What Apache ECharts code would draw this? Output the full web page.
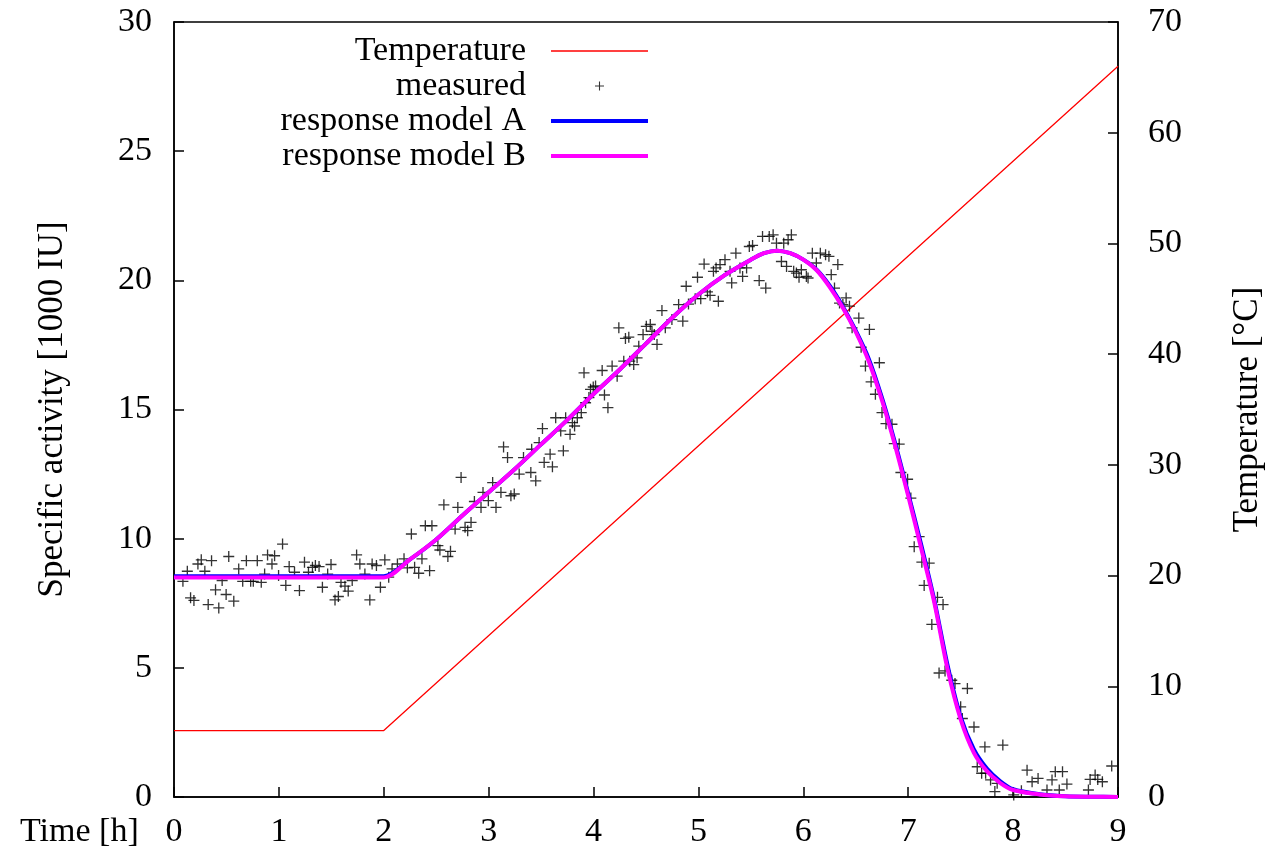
<!DOCTYPE html>
<html>
<head>
<meta charset="utf-8">
<script src="https://cdn.jsdelivr.net/npm/echarts@6/dist/echarts.min.js"></script>
<style>
  html, body { margin: 0; padding: 0; background: #fff; }
  #chart { width: 1273px; height: 852px; }
</style>
</head>
<body>
<div id="chart"></div>
<script>
// 温度曲线（右轴，°C）
const tempTime = [0, 2, 9];
const tempValue = [6, 6, 66];

// 测量点 [时间 h, 比活性 1000 IU]
const measured = [
  [0.085,8.35],[0.127,8.74],[0.158,7.71],[0.19,7.61],[0.228,9.02],[0.26,9.18],[0.294,8.74],[0.326,7.45],
  [0.358,9.15],[0.396,8.02],[0.427,7.32],[0.459,8.38],[0.497,7.84],[0.522,9.31],[0.57,7.58],[0.617,8.83],
  [0.655,8.35],[0.69,9.15],[0.731,8.35],[0.756,8.35],[0.794,9.15],[0.832,8.31],[0.864,8.63],[0.892,9.37],
  [0.934,9.02],[0.959,9.34],[0.997,8.57],[1.035,9.79],[1.066,8.19],[1.098,8.92],[1.149,8.7],[1.196,7.99],
  [1.244,9.09],[1.282,8.7],[1.32,8.89],[1.348,8.96],[1.383,8.92],[1.415,8.12],[1.465,8.63],[1.497,9.0],
  [1.535,7.63],[1.567,7.76],[1.592,8.31],[1.63,8.16],[1.661,7.97],[1.699,8.38],[1.741,9.37],[1.772,9.02],
  [1.82,8.63],[1.867,7.63],[1.889,9.02],[1.93,8.96],[1.968,8.12],[2.01,9.18],
  [2.047,8.51],[2.079,8.83],[2.13,9.02],[2.193,9.22],[2.225,8.87],[2.263,10.18],[2.294,8.89],[2.333,8.66],
  [2.364,9.22],[2.396,10.5],[2.437,8.76],[2.459,10.5],[2.516,9.73],[2.535,9.56],[2.573,11.31],[2.611,9.31],
  [2.636,9.51],[2.68,10.37],[2.706,11.21],[2.737,12.37],[2.775,10.44],[2.8,10.31],[2.832,10.63],[2.864,11.44],
  [2.927,11.21],[2.946,11.79],[2.997,11.47],[3.038,12.17],[3.07,11.21],[3.117,11.79],[3.142,13.55],[3.18,13.14],
  [3.212,11.66],[3.244,11.73],[3.291,12.5],[3.332,13.14],[3.402,12.56],[3.41,13.46],[3.449,12.24],[3.481,13.72],
  [3.529,12.95],
  [3.513,14.26],[3.586,13.27],[3.608,12.78],[3.639,14.68],[3.687,14.17],[3.712,13.4],[3.734,14.68],[3.776,14.04],
  [3.798,14.49],[3.819,14.36],[3.845,14.68],[3.883,14.88],[3.909,16.42],[3.924,15.26],[3.956,15.46],[3.971,15.78],
  [3.997,15.87],[4.019,15.91],[4.082,16.51],[4.104,15.56],[4.137,15.07],[4.177,16.68],[4.225,16.29],[4.241,18.16],
  [4.288,16.87],[4.304,17.75],[4.336,17.8],[4.345,16.87],[4.383,16.74],[4.415,17.0],[4.431,17.45],[4.472,17.9],
  [4.503,18.22],[4.541,18.29],[4.557,18.03],[4.579,17.9],[4.605,17.52],[4.652,18.83],[4.684,18.16],[4.747,18.48],
  [4.811,19.06],[4.851,18.42],[4.905,19.08],
  [4.883,19.77],[4.969,19.29],[4.991,20.12],[5.022,19.29],[5.054,20.63],[5.086,19.55],[5.111,19.42],[5.143,20.35],
  [5.168,20.48],[5.19,19.19],[5.206,20.61],[5.253,20.8],[5.301,20.35],[5.317,19.9],[5.357,21.05],[5.396,20.48],
  [5.421,20.15],[5.459,20.48],[5.485,21.31],[5.516,21.35],[5.579,19.99],[5.611,21.7],[5.642,19.7],[5.675,21.7],
  [5.712,21.76],[5.744,21.44],[5.791,20.73],[5.813,21.44],[5.84,20.54],[5.855,21.57],[5.886,21.76],[5.908,20.35],
  [5.934,20.28],[5.959,20.12],[5.981,20.41],[6.029,20.15],[6.045,20.09],[6.086,21.05],[6.124,20.67],[6.162,21.05],
  [6.212,20.99],[6.244,20.93],[6.266,20.22],[6.329,20.61],[6.345,19.12],[6.377,19.06],[6.408,19.32],[6.465,18.16],
  [6.297,19.7],[6.44,19.0],[6.529,18.54],[6.551,17.41],[6.592,16.68],[6.63,18.1],[6.646,16.07],[6.687,15.59],
  [6.725,16.81],[6.75,14.88],[6.788,14.45],[6.845,14.43],[6.867,13.68],[6.914,13.66],[6.93,12.56],[6.994,12.3],
  [7.025,11.57],[7.057,9.69],[7.104,10.08],[7.13,9.09],[7.152,8.19],[7.2,9.05],[7.279,7.73],
  [7.225,6.68],[7.294,4.8],[7.332,7.45],[7.351,4.88],[7.415,4.52],[7.446,4.39],[7.5,3.49],[7.516,3.04],
  [7.564,4.2],[7.627,2.71],[7.658,1.17],[7.7,0.92],[7.731,1.94],[7.738,0.92],[7.785,0.66],[7.826,0.21],
  [7.848,0.53],[7.902,2.01],[8.006,0.08],[8.079,0.24],[8.133,1.04],[8.181,0.59],[8.238,0.72],[8.323,0.27],
  [8.371,0.66],[8.402,0.98],[8.44,0.27],[8.471,0.98],[8.513,0.5],[8.718,0.27],[8.734,0.68],[8.782,0.85],
  [8.807,0.68],[8.851,0.59],[8.94,1.2]
];

// 响应模型 A / B
const modelTime = [0, 1, 2, 2.25, 2.5, 2.75, 3, 3.25, 3.5, 3.75, 4, 4.25, 4.5, 4.75, 5, 5.25, 5.5, 5.625,
  5.75, 5.875, 6, 6.125, 6.25, 6.375, 6.5, 6.625, 6.75, 6.875, 7, 7.125, 7.25, 7.375, 7.5, 7.625, 7.75,
  7.875, 8, 8.25, 8.5, 8.75, 9];
const modelA = [8.55, 8.55, 8.55, 9.2, 9.97, 10.9, 11.8, 12.7, 13.65, 14.6, 15.6, 16.55, 17.55, 18.55, 19.45,
  20.2, 20.8, 21.05, 21.15, 21.05, 20.8, 20.42, 19.8, 19.0, 18.05, 16.95, 15.45, 13.7, 11.75, 9.75, 7.6, 5.1,
  3.1, 1.85, 1.1, 0.62, 0.3, 0.11, 0.03, 0.01, 0];
const modelB = [8.5, 8.5, 8.5, 9.2, 9.97, 10.9, 11.8, 12.7, 13.65, 14.6, 15.6, 16.55, 17.55, 18.55, 19.45,
  20.2, 20.8, 21.05, 21.15, 21.05, 20.8, 20.4, 19.75, 18.95, 18.0, 16.85, 15.35, 13.6, 11.65, 9.6, 7.5, 4.95,
  3.0, 1.72, 1.0, 0.55, 0.27, 0.1, 0.03, 0.01, 0];

const FONT = 'Liberation Serif';
const CROSS = 'path://M4.4,0H5.6V4.4H10V5.6H5.6V10H4.4V5.6H0V4.4H4.4Z';

const chart = echarts.init(document.getElementById('chart'));

const zip = (xs, ys) => xs.map((x, i) => [x, ys[i]]);

const axisText = { fontFamily: FONT, fontSize: 34, color: '#000' };
const noDot = { color: 'rgba(0,0,0,0)', opacity: 0, borderWidth: 0 };

chart.setOption({
  animation: false,
  backgroundColor: '#fff',
  grid: { left: 174, right: 150, top: 22, bottom: 55, show: true, borderColor: '#000', borderWidth: 1.5 },
  legend: {
    orient: 'vertical',
    right: 623,
    top: 34,
    align: 'right',
    itemWidth: 97,
    itemHeight: 9,
    itemGap: 1,
    padding: 0,
    selectedMode: false,
    textStyle: { fontFamily: FONT, fontSize: 34, color: '#000', lineHeight: 34, padding: [0, 20, 0, 0] },
    data: [
      { name: 'Temperature', itemStyle: noDot, lineStyle: { color: '#ff0000', width: 1.3 } },
      { name: 'measured', icon: CROSS, itemStyle: { color: '#000' } },
      { name: 'response model A', itemStyle: noDot, lineStyle: { color: '#0000ff', width: 4 } },
      { name: 'response model B', itemStyle: noDot, lineStyle: { color: '#ff00ff', width: 4 } }
    ]
  },
  graphic: [{
    type: 'text',
    x: 20,
    y: 832,
    style: { text: 'Time [h]', font: '34px "Liberation Serif"', fill: '#000', textVerticalAlign: 'middle' }
  }],
  xAxis: {
    type: 'value',
    min: 0, max: 9, interval: 1,
    axisLine: { show: true, lineStyle: { color: '#000', width: 1.5 } },
    axisTick: { show: true, inside: true, length: 10, lineStyle: { color: '#000', width: 1.5 } },
    axisLabel: Object.assign({ margin: 18 }, axisText),
    splitLine: { show: false }
  },
  yAxis: [{
    type: 'value',
    min: 0, max: 30, interval: 5,
    name: 'Specific activity [1000 IU]',
    nameLocation: 'middle',
    nameGap: 104,
    nameTextStyle: Object.assign({}, axisText, { fontSize: 35 }),
    axisLine: { show: true, lineStyle: { color: '#000', width: 1.5 } },
    axisTick: { show: true, inside: true, length: 10, lineStyle: { color: '#000', width: 1.5 } },
    axisLabel: Object.assign({ margin: 22 }, axisText),
    splitLine: { show: false }
  }, {
    type: 'value',
    position: 'right',
    min: 0, max: 70, interval: 10,
    name: 'Temperature [°C]',
    nameLocation: 'middle',
    nameGap: 112,
    nameTextStyle: Object.assign({}, axisText, { fontSize: 35 }),
    axisLine: { show: true, lineStyle: { color: '#000', width: 1.5 } },
    axisTick: { show: true, inside: true, length: 10, lineStyle: { color: '#000', width: 1.5 } },
    axisLabel: Object.assign({ margin: 30 }, axisText),
    splitLine: { show: false }
  }],
  series: [{
    name: 'Temperature',
    type: 'line',
    yAxisIndex: 1,
    symbol: 'none',
    color: '#ff0000',
    lineStyle: { color: '#ff0000', width: 1.3 },
    data: zip(tempTime, tempValue),
    z: 1
  }, {
    name: 'measured',
    type: 'scatter',
    symbol: CROSS,
    symbolSize: 11,
    itemStyle: { color: '#000' },
    data: measured,
    z: 2
  }, {
    name: 'response model A',
    type: 'line',
    symbol: 'none',
    smooth: 0.3,
    color: '#0000ff',
    lineStyle: { color: '#0000ff', width: 4 },
    data: zip(modelTime, modelA),
    z: 3
  }, {
    name: 'response model B',
    type: 'line',
    symbol: 'none',
    smooth: 0.3,
    color: '#ff00ff',
    lineStyle: { color: '#ff00ff', width: 4 },
    data: zip(modelTime, modelB),
    z: 4
  }]
});

window.addEventListener('resize', () => chart.resize());
</script>
</body>
</html>
